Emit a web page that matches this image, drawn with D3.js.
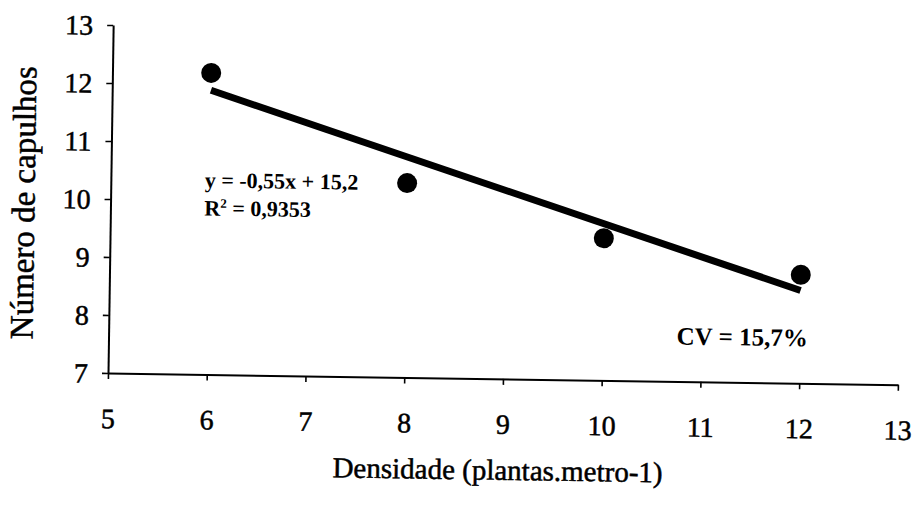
<!DOCTYPE html>
<html>
<head>
<meta charset="utf-8">
<script src="https://cdn.jsdelivr.net/npm/d3@7"></script>
<style>
  html, body { margin: 0; padding: 0; background: #fff; }
  svg { display: block; }
  text { font-family: "Liberation Serif", "Times New Roman", serif; fill: #000; }
</style>
</head>
<body>
<svg id="chart" width="921" height="507"></svg>
<script>
// Plant density (plants per metre) and number of bolls per plant
const densities = [6, 8, 10, 12];
const bolls = [12.2, 10.35, 9.45, 8.87];

// Linear fit reported on the chart
const slope = -0.55;
const intercept = 15.2;
const equationLabel = "y = -0,55x + 15,2";
const r2Label = "0,9353";
const cvLabel = "CV = 15,7%";

const xTicks = [5, 6, 7, 8, 9, 10, 11, 12, 13];
const yTicks = [7, 8, 9, 10, 11, 12, 13];

const xTitle = "Densidade (plantas.metro-1)";
const yTitle = "Número de capulhos";

const width = 921, height = 507;
const margin = { left: 108, top: 25 };
const plotW = 790, plotH = 348;

const svg = d3.select("#chart");

// whole figure sits slightly tilted, pivoting on the axes origin
const root = svg.append("g")
  .attr("transform", `rotate(0.85, ${margin.left}, ${margin.top + plotH})`);

const g = root.append("g")
  .attr("transform", `translate(${margin.left},${margin.top})`);

const x = d3.scaleLinear().domain([5, 13]).range([0, plotW]);
const y = d3.scaleLinear().domain([7, 13]).range([plotH, 0]);

// slightly heavier glyphs for the serif labels
const heavy = sel => sel.attr("stroke", "#000").attr("stroke-width", 0.5);

// y axis
const yAxis = g.append("g")
  .call(d3.axisLeft(y).tickValues(yTicks).tickSize(6).tickSizeOuter(0).tickPadding(14).tickFormat(d3.format("d")));
yAxis.select(".domain").attr("stroke", "#000").attr("stroke-width", 2);
yAxis.selectAll(".tick line").attr("stroke", "#000").attr("stroke-width", 1.6);
yAxis.selectAll(".tick text")
  .attr("font-size", 28)
  .attr("font-family", "Liberation Serif")
  .attr("dy", "0.34em")
  .call(heavy);

// x axis
const xAxis = g.append("g")
  .attr("transform", `translate(0,${plotH})`)
  .call(d3.axisBottom(x).tickValues(xTicks).tickSize(6).tickSizeOuter(0).tickFormat(d3.format("d")));
xAxis.select(".domain").attr("stroke", "#000").attr("stroke-width", 2);
xAxis.selectAll(".tick line").attr("stroke", "#000").attr("stroke-width", 1.6);
xAxis.selectAll(".tick text")
  .attr("font-size", 28)
  .attr("font-family", "Liberation Serif")
  .attr("y", 0)
  .attr("dy", 55)
  .call(heavy);

// axis titles
g.append("text")
  .attr("transform", `translate(${32 - margin.left},${204 - margin.top}) rotate(-90)`)
  .attr("text-anchor", "middle")
  .attr("font-size", 33)
  .call(heavy)
  .text(yTitle);

g.append("text")
  .attr("x", 499 - margin.left)
  .attr("y", 474 - margin.top)
  .attr("text-anchor", "middle")
  .attr("font-size", 29)
  .call(heavy)
  .text(xTitle);

// regression line
const x0 = d3.min(densities), x1 = d3.max(densities);
g.append("line")
  .attr("x1", x(x0)).attr("y1", y(slope * x0 + intercept))
  .attr("x2", x(x1)).attr("y2", y(slope * x1 + intercept))
  .attr("stroke", "#000")
  .attr("stroke-width", 7);

// observed means
g.selectAll("circle.obs")
  .data(densities.map((d, i) => ({ d, v: bolls[i] })))
  .join("circle")
  .attr("class", "obs")
  .attr("cx", p => x(p.d))
  .attr("cy", p => y(p.v))
  .attr("r", 10)
  .attr("fill", "#000");

// equation and R²
g.append("text")
  .attr("x", 202 - margin.left)
  .attr("y", 186 - margin.top)
  .attr("font-size", 22)
  .attr("font-weight", "bold")
  .text(equationLabel);

const r2 = g.append("text")
  .attr("x", 202 - margin.left)
  .attr("y", 214 - margin.top)
  .attr("font-size", 22)
  .attr("font-weight", "bold");
r2.append("tspan").text("R");
r2.append("tspan").attr("font-size", 13).attr("dy", -8).text("2");
r2.append("tspan").attr("dy", 8).text(" = " + r2Label);

// coefficient of variation
g.append("text")
  .attr("x", 676 - margin.left)
  .attr("y", 336 - margin.top)
  .attr("font-size", 25)
  .attr("font-weight", "bold")
  .text(cvLabel);
</script>
</body>
</html>
